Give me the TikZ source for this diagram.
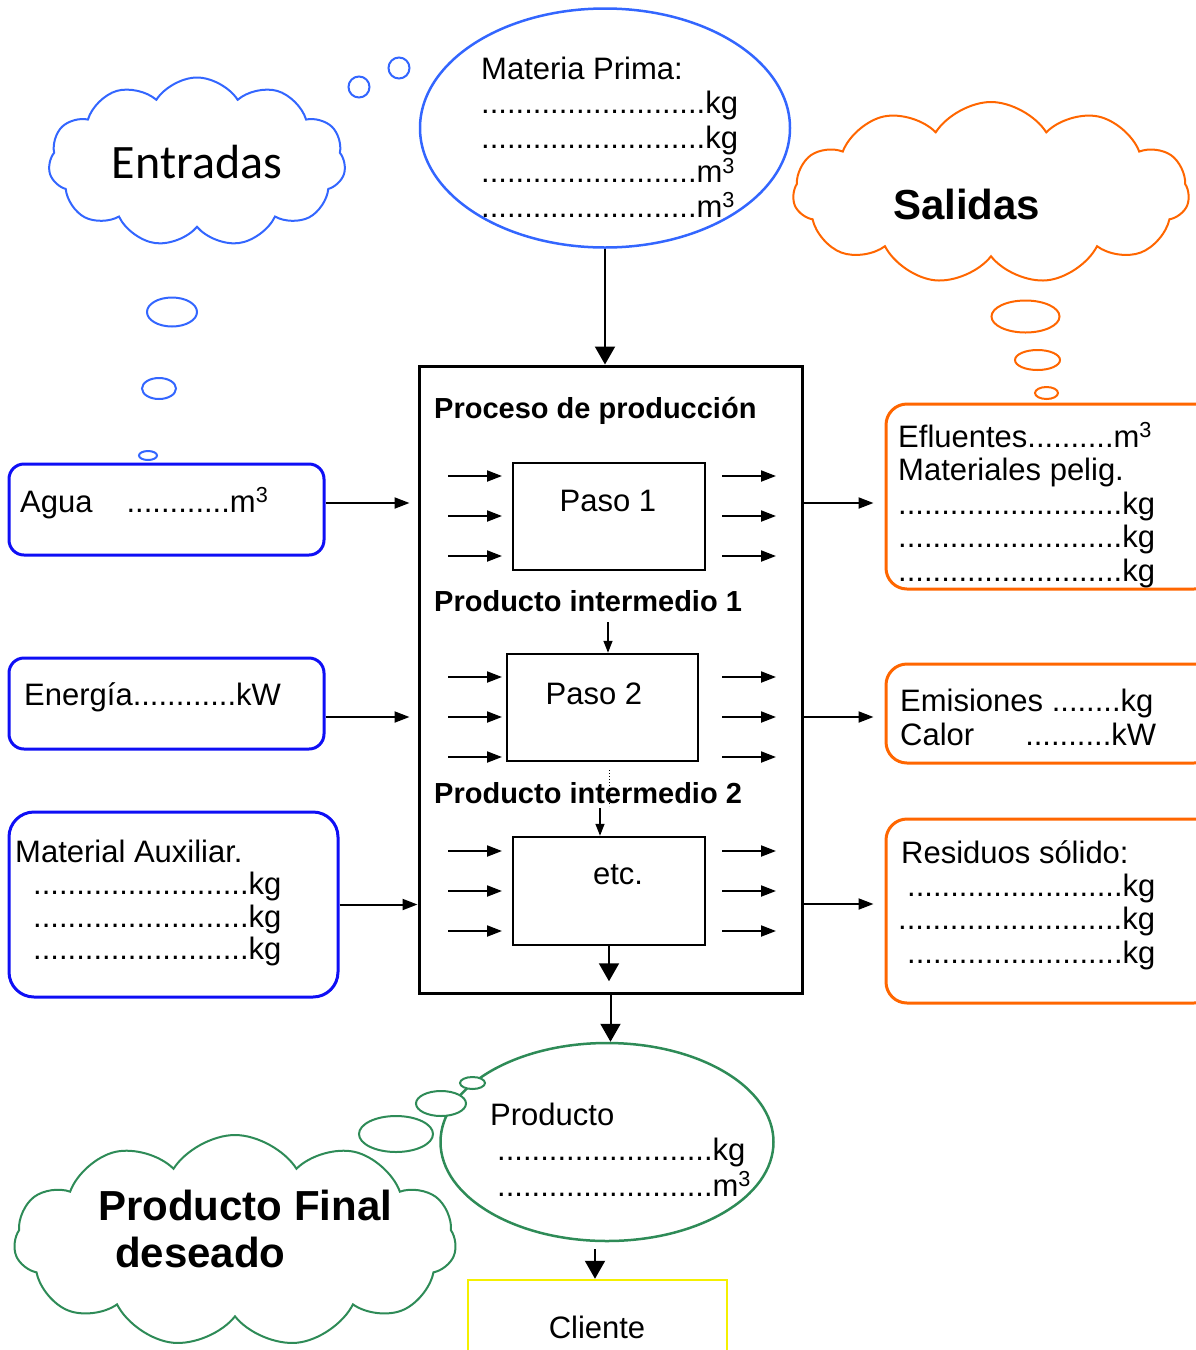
\documentclass[tikz,border=0pt]{standalone}
\usepackage{fontspec}
\setmainfont{Liberation Sans}
\newfontfamily\nubefont{Carlito}
\usetikzlibrary{shapes.symbols,shapes.geometric,arrows.meta}

\definecolor{nubeazul}{RGB}{51,102,255}
\definecolor{cajaazul}{RGB}{15,15,245}
\definecolor{naranja}{RGB}{255,102,0}
\definecolor{verde}{RGB}{46,139,87}
\definecolor{amarillo}{RGB}{245,240,0}

\newcommand{\puntos}[1]{\foreach \n in {1,...,#1}{.}}

\tikzset{
  txt/.style={font=\fontsize{31}{34.5}\selectfont, inner sep=0pt, align=left, anchor=base west},
  titulo/.style={font=\bfseries\fontsize{29}{32}\selectfont, inner sep=0pt, anchor=base west},
  grande/.style={font=\bfseries\fontsize{42}{46}\selectfont, inner sep=0pt, anchor=base west},
  nube/.style={cloud, cloud puffs=11, cloud puff arc=115, cloud ignores aspect, line width=2pt, fill=white},
  burbuja/.style={line width=2pt, fill=white},
  entrada/.style={draw=cajaazul, line width=3pt, rounded corners=15pt},
  salida/.style={draw=naranja, line width=3pt, rounded corners=21pt},
  paso/.style={draw, line width=2.5pt},
  flecha/.style={->, line width=2pt},
  flechota/.style={-{Triangle[length=18pt,width=20pt]}, line width=2pt},
}

\begin{document}
\begin{tikzpicture}[x=1pt, y=-1pt, >={Triangle[length=15pt,width=11pt]}]
\useasboundingbox (0,0) rectangle (1195,1350);

% clouds
\node[nube, draw=nubeazul, minimum width=297pt, minimum height=169pt,
  font=\nubefont\fontsize{48}{52}\selectfont] (entradas) at (197,162) {Entradas};
\node[nube, draw=naranja, minimum width=396pt, minimum height=182pt] (salidas) at (991,193) {};
\node[grande] (salidastxt) at (893,219) {Salidas};
\node[nube, draw=verde, minimum width=442pt, minimum height=212pt] (final) at (235,1241) {};
\node[grande] (finaltxt1) at (98,1220) {Producto Final};
\node[grande] (finaltxt2) at (115,1267) {deseado};

% materia prima and producto (multi-line text sits on its last baseline)
\node[ellipse, draw=nubeazul, line width=2.5pt, minimum width=370pt, minimum height=239pt] (mp) at (605,128) {};
\node[txt] (mptxt) at (481,217) {Materia Prima:\\ \puntos{26}kg\\ \puntos{26}kg\\
  \puntos{25}m\textsuperscript{3}\\ \puntos{25}m\textsuperscript{3}};
\node[ellipse, draw=verde, line width=2.5pt, minimum width=333pt, minimum height=198pt] (prod) at (607,1142) {};
\node[txt, font=\fontsize{31}{35.5}\selectfont] (prodtxt) at (490,1196) {Producto\\
  \hspace*{7pt}\puntos{25}kg\\ \hspace*{7pt}\puntos{25}m\textsuperscript{3}};

% bubbles
\draw[burbuja, draw=nubeazul] (359,87) circle [radius=10.5pt];
\draw[burbuja, draw=nubeazul] (399,68) circle [radius=10.5pt];
\draw[burbuja, draw=nubeazul] (172,312) ellipse [x radius=25pt, y radius=14.5pt];
\draw[burbuja, draw=nubeazul] (159,388.5) ellipse [x radius=17pt, y radius=10.5pt];
\draw[burbuja, draw=nubeazul] (148,455.5) ellipse [x radius=9pt, y radius=4.5pt];
\draw[burbuja, draw=naranja] (1025.5,316.5) ellipse [x radius=34pt, y radius=16pt];
\draw[burbuja, draw=naranja] (1037.5,360) ellipse [x radius=22.5pt, y radius=10pt];
\draw[burbuja, draw=naranja] (1046.5,393) ellipse [x radius=11.5pt, y radius=6pt];
\draw[burbuja, draw=verde] (396,1134) ellipse [x radius=37pt, y radius=18pt];
\draw[burbuja, draw=verde] (441,1103.5) ellipse [x radius=25pt, y radius=12.5pt];
\draw[burbuja, draw=verde] (472.5,1083) ellipse [x radius=12.5pt, y radius=6pt];

% inputs
\node[entrada, minimum width=315pt, minimum height=91pt] (agua) at (166.5,509.5) {};
\node[txt] (aguatxt) at (20,512) {Agua\hspace{34pt}\puntos{12}m\textsuperscript{3}};
\node[entrada, minimum width=315pt, minimum height=91pt] (energia) at (166.5,703.5) {};
\node[txt] (energiatxt) at (24,705) {Energía\puntos{12}kW};
\node[entrada, rounded corners=25pt, minimum width=329pt, minimum height=185pt] (aux) at (173.5,904.5) {};
\node[txt, font=\fontsize{31}{32.5}\selectfont] (auxtxt) at (15,959.5) {Material Auxiliar.\\
  \hspace*{18pt}\puntos{25}kg\\ \hspace*{18pt}\puntos{25}kg\\ \hspace*{18pt}\puntos{25}kg};

% outputs
\node[salida, minimum width=329pt, minimum height=185pt] (efl) at (1050.5,496.5) {};
\node[txt, font=\fontsize{31}{33.5}\selectfont] (efltxt) at (898,581) {Efluentes\puntos{10}m\textsuperscript{3}\\
  Materiales pelig.\\ \puntos{26}kg\\ \puntos{26}kg\\ \puntos{26}kg};
\node[salida, minimum width=329pt, minimum height=99pt] (emi) at (1050.5,713.5) {};
\node[txt, font=\fontsize{31}{34}\selectfont] (emitxt) at (900,745) {Emisiones \puntos{8}kg\\
  Calor\hspace{51pt}\puntos{10}kW};
\node[salida, minimum width=329pt, minimum height=184pt] (res) at (1050.5,911) {};
\node[txt, font=\fontsize{31}{33.3}\selectfont] (restxt) at (898,963) {\hspace*{3pt}Residuos sólido:\\
  \hspace*{9pt}\puntos{25}kg\\ \puntos{26}kg\\ \hspace*{9pt}\puntos{25}kg};

% process
\node[draw, line width=3pt, minimum width=383pt, minimum height=627pt] (proc) at (610.5,679.5) {};
\node[titulo] (proctxt) at (434,418) {Proceso de producción};
\node[paso, minimum width=192pt, minimum height=107pt] (paso1) at (609,516.5) {};
\node[txt, anchor=base] (paso1txt) at (608,511) {Paso 1};
\node[titulo] (inter1) at (434,611) {Producto intermedio 1};
\node[paso, minimum width=191pt, minimum height=107pt] (paso2) at (602.5,707.5) {};
\node[txt, anchor=base] (paso2txt) at (594,704) {Paso 2};
\node[titulo] (inter2) at (434,803) {Producto intermedio 2};
\node[paso, minimum width=192pt, minimum height=108pt] (etcbox) at (609,891) {};
\node[txt, anchor=base] (etctxt) at (618,884) {etc.};
\node[draw=amarillo, line width=2.5pt, minimum width=259pt, minimum height=90pt] (cliente) at (597.5,1325) {};
\node[txt, anchor=base] (clientetxt) at (597,1338) {Cliente};

\coordinate (inter1a) at (608,622);
\coordinate (inter2a) at (600,808);

% arrows
\draw[flechota] (mp.south) -- (mp.south |- proc.north);
\draw[flecha] ([yshift=6.5pt]agua.east) -- ++(84,0);
\draw[flecha] ([yshift=-13.5pt]energia.east) -- ++(84,0);
\draw[flecha] (aux.east) -- (aux.east -| proc.west);
\draw[flecha] (proc.east |- 0,503) -- ++(70,0);
\draw[flecha] (proc.east |- 0,717) -- ++(70,0);
\draw[flecha] (proc.east |- 0,904) -- ++(70,0);
\foreach \y in {476,516,556,677,717,757,851,891,931} {
  \draw[flecha] (448,\y) -- (502,\y);
  \draw[flecha] (722,\y) -- (776,\y);
}
\draw[->, line width=1.5pt, >={Triangle[length=12pt,width=9pt]}] (inter1a) -- (inter1a |- paso2.north);
\draw[dotted, line width=1pt] (609,770) -- (609,806);
\draw[->, line width=1.5pt, >={Triangle[length=12pt,width=9pt]}] (inter2a) -- (inter2a |- etcbox.north);
\draw[flechota] (etcbox.south) -- ++(0,35);
\draw[flechota] (proc.south) -- (proc.south |- prod.north);
\draw[flechota] ([xshift=-12pt,yshift=-7pt]prod.south) -- ([xshift=-2.5pt]cliente.north);

\end{tikzpicture}
\end{document}
